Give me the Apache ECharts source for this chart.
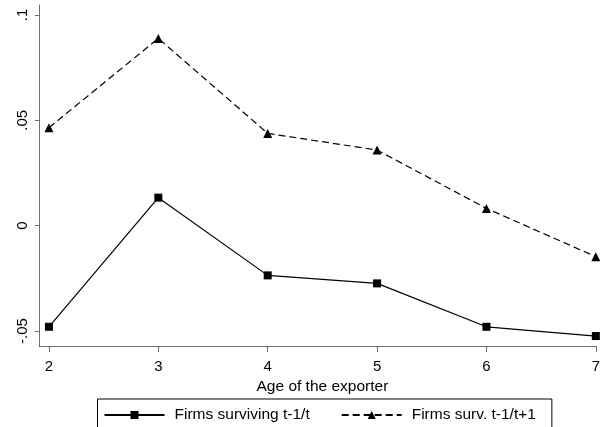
<!DOCTYPE html>
<html>
<head>
<meta charset="utf-8">
<script src="https://cdn.jsdelivr.net/npm/echarts@6/dist/echarts.min.js"></script>
<style>
html,body{margin:0;padding:0;background:#fff;}
#chart{width:603px;height:427px;}
</style>
</head>
<body>
<div id="chart"></div>
<script>
var ages = [2, 3, 4, 5, 6, 7];
var survivingT = [-0.0480, 0.0133, -0.0236, -0.0274, -0.0480, -0.0524];
var survivingT1 = [0.0465, 0.0889, 0.0438, 0.0359, 0.0082, -0.0147];
var yTicks = [-0.05, 0, 0.05, 0.1];
var yTickLabels = ['-.05', '0', '.05', '.1'];
var xTicks = [2, 3, 4, 5, 6, 7];
var seriesNames = ['Firms surviving t-1/t', 'Firms surv. t-1/t+1'];
var xTitle = 'Age of the exporter';

function pairs(xs, ys) { return xs.map(function (x, i) { return [x, ys[i]]; }); }

var font = 'Liberation Sans, Arial, Helvetica, sans-serif';
var chart = echarts.init(document.getElementById('chart'), null, {renderer: 'canvas'});
chart.setOption({
  animation: false,
  backgroundColor: '#ffffff',
  grid: {left: 39, right: 4, top: 5, bottom: 81, containLabel: false},
  xAxis: {
    type: 'value', min: 1.909, max: 7,
    name: xTitle, nameLocation: 'middle', nameGap: 27,
    nameTextStyle: {color: '#000', fontSize: 15.5, fontFamily: font, padding: [0, 0, 0, 10]},
    axisLine: {show: true, onZero: false, lineStyle: {color: '#707070', width: 1}},
    axisTick: {show: true, length: 6, lineStyle: {color: '#707070'}, customValues: xTicks},
    axisLabel: {color: '#000', fontSize: 15, fontFamily: font, margin: 13, customValues: xTicks},
    splitLine: {show: false}
  },
  yAxis: {
    type: 'value', min: -0.05712, max: 0.10475,
    axisLine: {show: true, onZero: false, lineStyle: {color: '#707070', width: 1}},
    axisTick: {show: true, length: 4, lineStyle: {color: '#707070'}, customValues: yTicks},
    axisLabel: {
      color: '#000', fontSize: 15, fontFamily: font, margin: 9, rotate: 90,
      customValues: yTicks,
      formatter: function (v) {
        for (var i = 0; i < yTicks.length; i++) if (Math.abs(yTicks[i] - v) < 1e-9) return yTickLabels[i];
        return '';
      }
    },
    splitLine: {show: false}
  },
  legend: {
    left: 97.5, top: 399,
    orient: 'horizontal',
    itemWidth: 60, itemHeight: 10, itemGap: 31,
    padding: [8, 16, 30, 6],
    borderColor: '#000', borderWidth: 1,
    textStyle: {color: '#000', fontSize: 15.5, fontFamily: font, padding: [0, 0, 0, 5]},
    data: seriesNames
  },
  series: [
    {
      name: seriesNames[0], type: 'line', data: pairs(ages, survivingT),
      symbol: 'rect', symbolSize: 8, clip: false,
      lineStyle: {color: '#000', width: 1.2, type: 'solid'},
      itemStyle: {color: '#000'}
    },
    {
      name: seriesNames[1], type: 'line', data: pairs(ages, survivingT1),
      symbol: 'triangle', symbolSize: 9, clip: false,
      lineStyle: {color: '#000', width: 1.2, type: [7, 4]},
      itemStyle: {color: '#000'}
    }
  ]
});
</script>
</body>
</html>
